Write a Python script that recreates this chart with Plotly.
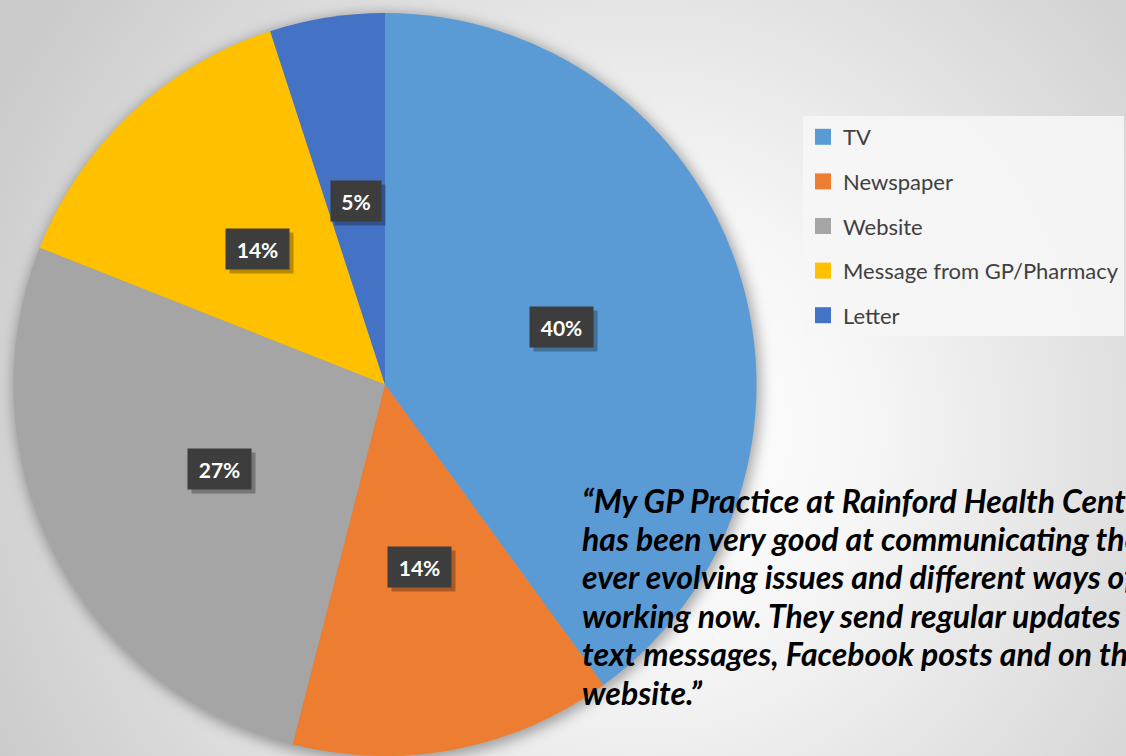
import math
import base64
import plotly.graph_objects as go

categories = ["TV", "Newspaper", "Website", "Message from GP/Pharmacy", "Letter"]
values = [40, 14, 27, 14, 5]
pct_labels = ["40%", "14%", "27%", "14%", "5%"]
colors = ["#5B9BD5", "#ED7D31", "#A5A5A5", "#FFC000", "#4472C4"]
quote_lines = [
    "“My GP Practice at Rainford Health Centre",
    "has been very good at communicating the",
    "ever evolving issues and different ways of",
    "working now. They send regular updates via",
    "text messages, Facebook posts and on their",
    "website.”",
]

W, H = 1126, 756
MT, MB = 13, 0
PH = H - MT - MB
CX, R = 385, PH / 2
CY = MT + R


def to_paper(px, py):
    return px / W, 1 - (py - MT) / PH


# background: radial gradient + soft pie shadow
svg = f'''<svg xmlns="http://www.w3.org/2000/svg" width="{W}" height="{H}" viewBox="0 0 {W} {H}" preserveAspectRatio="none">
<defs>
<radialGradient id="g" cx="640" cy="430" r="720" gradientUnits="userSpaceOnUse">
<stop offset="0" stop-color="#ffffff"/>
<stop offset="0.3" stop-color="#f7f7f7"/>
<stop offset="1" stop-color="#cbcbcb"/>
</radialGradient>
<filter id="b" x="-20%" y="-20%" width="140%" height="140%"><feGaussianBlur stdDeviation="7"/></filter>
</defs>
<rect width="{W}" height="{H}" fill="url(#g)"/>
<circle cx="{CX + 2}" cy="{CY + 3}" r="{R + 2}" fill="rgba(0,0,0,0.35)" filter="url(#b)"/>
</svg>'''
bg_uri = "data:image/svg+xml;base64," + base64.b64encode(svg.encode()).decode()

fig = go.Figure()
fig.add_trace(go.Pie(
    labels=categories, values=values, sort=False, direction="clockwise",
    rotation=0, marker=dict(colors=colors, line=dict(width=0)),
    textinfo="none", hoverinfo="label+percent", showlegend=False,
    domain=dict(x=[(CX - R) / W, (CX + R) / W], y=[0, 1]),
))

# legend entries
for cat, col in zip(categories, colors):
    fig.add_trace(go.Scatter(
        x=[None], y=[None], mode="markers", name=cat, legendgroup=cat,
        marker=dict(symbol="square", size=16, color=col),
    ))

# percentage label boxes placed at slice mid-angles
annotations = []
total = sum(values)
cum = 0
for v, lab in zip(values, pct_labels):
    mid = (cum + v / 2) / total * 2 * math.pi
    cum += v
    px = CX + 0.5 * R * math.sin(mid)
    py = CY - 0.5 * R * math.cos(mid)
    wbox = 13 * len(lab) + 12
    sx, sy = to_paper(px + 4, py + 4)
    annotations.append(dict(
        x=sx, y=sy, xref="paper", yref="paper", xanchor="center", yanchor="middle",
        text=" ", showarrow=False,
        width=wbox, height=28, borderpad=6, bgcolor="rgba(0,0,0,0.28)",
    ))
    ax, ay = to_paper(px, py)
    annotations.append(dict(
        x=ax, y=ay, xref="paper", yref="paper", xanchor="center", yanchor="middle",
        text=f"<b>{lab}</b>", showarrow=False,
        width=wbox, height=28, borderpad=6, bgcolor="#3d3d3d",
        font=dict(family="Lato", size=21, color="white"),
    ))

# quote, one annotation per line
for i, line in enumerate(quote_lines):
    qx, qy = to_paper(580, 500 + 38.4 * i)
    annotations.append(dict(
        x=qx, y=qy, xref="paper", yref="paper", xanchor="left", yanchor="middle",
        align="left", showarrow=False, text="<b><i>" + line + "</i></b>",
        font=dict(family="Lato", size=32, color="black"),
    ))

lx, ly = to_paper(803, 116)
fig.update_layout(
    width=W, height=H,
    margin=dict(l=0, r=0, t=MT, b=MB),
    paper_bgcolor="#e6e6e6", plot_bgcolor="rgba(0,0,0,0)",
    xaxis=dict(visible=False), yaxis=dict(visible=False),
    showlegend=True,
    legend=dict(
        x=lx, y=ly, xanchor="left", yanchor="top",
        bgcolor="rgba(246,246,246,0.9)", borderwidth=0,
        font=dict(family="Lato", size=22, color="#404040"),
        tracegroupgap=13, itemwidth=30,
    ),
    annotations=annotations,
    images=[dict(
        source=bg_uri, xref="paper", yref="paper", x=0, y=1 + MT / PH,
        sizex=1, sizey=H / PH, sizing="stretch", xanchor="left", yanchor="top",
        layer="below",
    )],
)

fig.write_html("out.html", config={"displayModeBar": False},
               post_script="document.body.style.margin='0';")
